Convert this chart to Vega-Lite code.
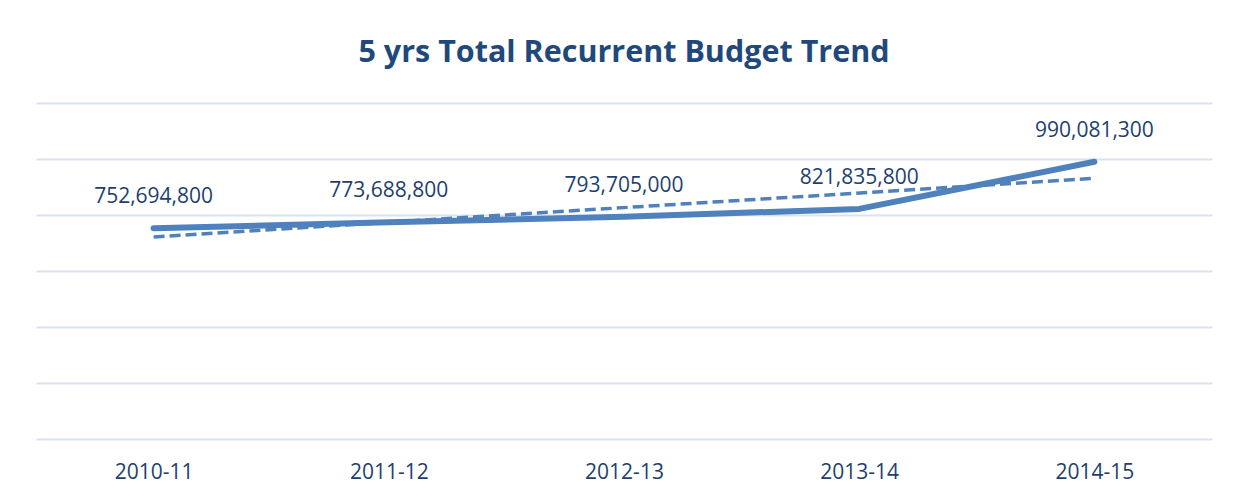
{
  "$schema": "https://vega.github.io/schema/vega-lite/v6.json",
  "width": 1176,
  "height": 336,
  "autosize": {"type": "none"},
  "padding": {"left": 36, "top": 103, "right": 24, "bottom": 59},
  "background": "white",
  "title": {
    "text": "5 yrs Total Recurrent Budget Trend",
    "font": "Open Sans",
    "fontSize": 30.5,
    "fontWeight": "bold",
    "color": "#1F497D",
    "anchor": "middle",
    "offset": 35
  },
  "data": {
    "values": [
      {"year": "2010-11", "idx": 1, "budget": 752694800},
      {"year": "2011-12", "idx": 2, "budget": 773688800},
      {"year": "2012-13", "idx": 3, "budget": 793705000},
      {"year": "2013-14", "idx": 4, "budget": 821835800},
      {"year": "2014-15", "idx": 5, "budget": 990081300}
    ]
  },
  "layer": [
    {
      "mark": {"type": "line", "color": "#4F81BD", "strokeWidth": 6, "strokeCap": "round", "strokeJoin": "round"},
      "encoding": {
        "x": {
          "field": "year",
          "type": "nominal",
          "sort": null,
          "scale": {"type": "point", "padding": 0.5},
          "axis": {
            "title": null,
            "domain": false,
            "ticks": false,
            "labelAngle": 0,
            "labelFont": "Open Sans",
            "labelFontSize": 21,
            "labelColor": "#1F3F6E",
            "labelBaseline": "alphabetic",
            "labelPadding": 39,
            "grid": false
          }
        },
        "y": {
          "field": "budget",
          "type": "quantitative",
          "scale": {"domain": [0, 1200000000], "nice": false},
          "axis": {
            "title": null,
            "labels": false,
            "ticks": false,
            "domain": false,
            "values": [0, 200000000, 400000000, 600000000, 800000000, 1000000000, 1200000000],
            "grid": true,
            "gridColor": "#D9E3F1",
            "gridWidth": 2
          }
        }
      }
    },
    {
      "mark": {"type": "text", "font": "Open Sans", "fontSize": 21, "color": "#1F3F6E", "baseline": "alphabetic", "dy": -25},
      "encoding": {
        "x": {"field": "year", "type": "nominal", "sort": null, "scale": {"type": "point", "padding": 0.5}, "axis": null},
        "y": {"field": "budget", "type": "quantitative"},
        "text": {"field": "budget", "type": "quantitative", "format": ",d"}
      }
    },
    {
      "transform": [{"regression": "budget", "on": "idx"}],
      "mark": {"type": "line", "color": "#4F81BD", "strokeWidth": 3.5, "strokeDash": [11, 5]},
      "encoding": {
        "x": {
          "field": "idx",
          "type": "quantitative",
          "scale": {"domain": [0.5, 5.5], "nice": false, "zero": false},
          "axis": null
        },
        "y": {"field": "budget", "type": "quantitative"}
      }
    }
  ],
  "resolve": {"scale": {"x": "independent"}},
  "config": {"view": {"stroke": null}}
}
